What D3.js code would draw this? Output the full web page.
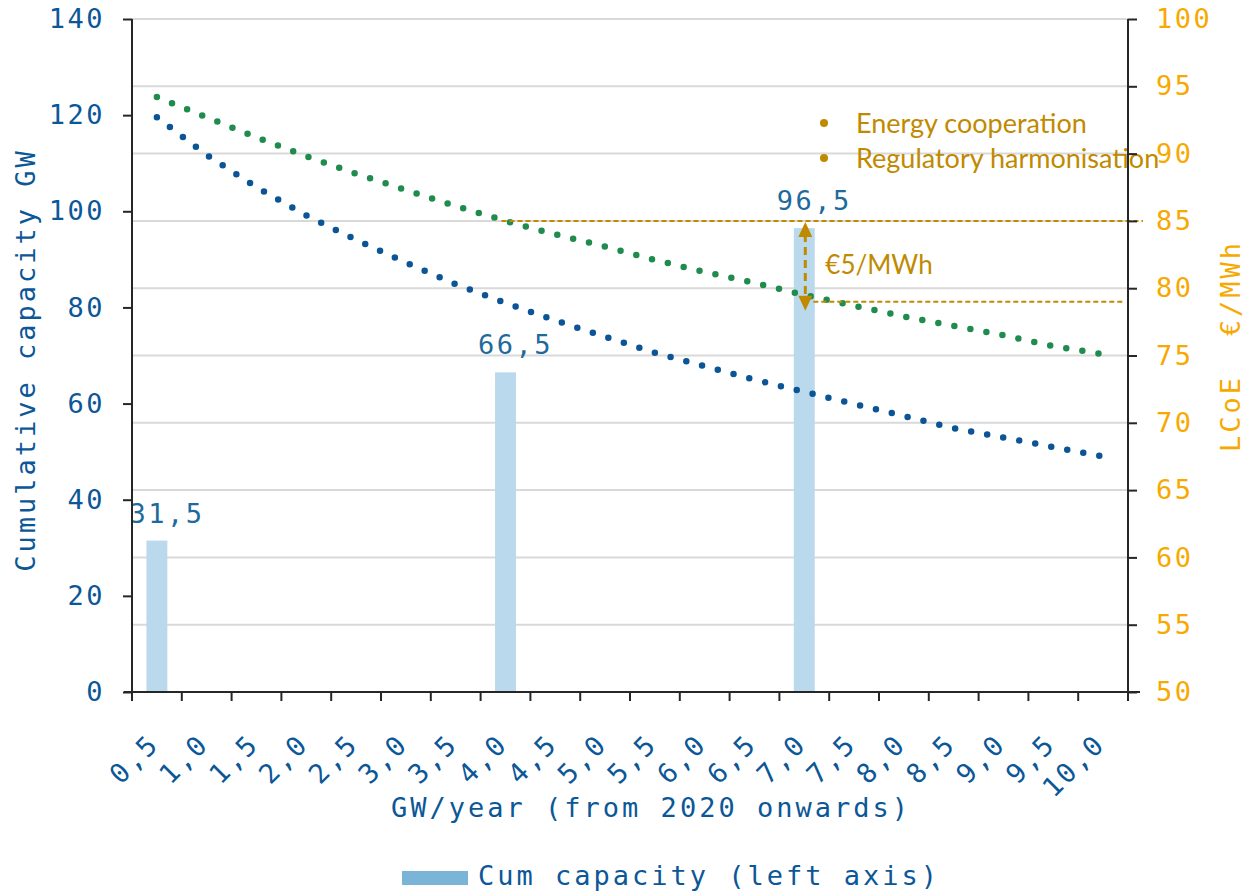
<!DOCTYPE html>
<html>
<head>
<meta charset="utf-8">
<script src="https://cdn.jsdelivr.net/npm/d3@7"></script>
<style>
body { margin: 0; background: #fff; }
</style>
</head>
<body>
<div id="container"></div>
<script>
// catégories : GW installés par an
const categories = ["0,5", "1,0", "1,5", "2,0", "2,5", "3,0", "3,5", "4,0", "4,5", "5,0",
    "5,5", "6,0", "6,5", "7,0", "7,5", "8,0", "8,5", "9,0", "9,5", "10,0"];
// capacité cumulée (axe de gauche), seulement trois barres
const capacity = [31.5, null, null, null, null, null, null, 66.5, null, null,
    null, null, null, 96.5, null, null, null, null, null, null];
// LCoE (axe de droite)
const lcoeBlue = [92.7, 89.9, 87.5, 85.4, 83.6, 81.9, 80.3, 78.9, 77.6, 76.4,
    75.2, 74.2, 73.2, 72.3, 71.4, 70.5, 69.6, 68.9, 68.2, 67.5];
const lcoeGreen = [94.2, 92.7, 91.2, 89.8, 88.5, 87.3, 86.1, 85.0, 84.0, 83.1,
    82.1, 81.2, 80.4, 79.5, 78.7, 77.9, 77.2, 76.5, 75.7, 75.1];
const leftTicks = [0, 20, 40, 60, 80, 100, 120, 140];
const rightTicks = [50, 55, 60, 65, 70, 75, 80, 85, 90, 95, 100];
const bullets = ["Energy cooperation", "Regulatory harmonisation"];
// l'écart de 5 €/MWh entre 4,0 et 7,0
const gapLevels = [85, 79];
const gapLabel = "€5/MWh";

const width = 1247;
const height = 894;
const mLeft = 132, mRight = 1128, mTop = 19, mBottom = 692;

const mono = "'DejaVu Sans Mono', monospace";
const sans = "Lato, 'Open Sans', sans-serif";
const blue = "#0b5797";
const orange = "#f7a900";
const gold = "#bf8a00";

const x = d3.scaleBand().domain(categories).range([mLeft, mRight]).padding(0);
const yL = d3.scaleLinear().domain([0, 140]).range([mBottom, mTop]);
const yR = d3.scaleLinear().domain([50, 100]).range([mBottom, mTop]);
const cx = c => x(c) + x.bandwidth() / 2;

const svg = d3.create("svg")
    .attr("width", width)
    .attr("height", height)
    .attr("viewBox", [0, 0, width, height]);

// grille (elle suit l'axe de droite)
svg.append("g")
    .selectAll("line")
    .data(rightTicks.slice(1))
    .join("line")
    .attr("x1", mLeft)
    .attr("x2", mRight)
    .attr("y1", d => yR(d))
    .attr("y2", d => yR(d))
    .attr("stroke", "#d9d9d9")
    .attr("stroke-width", 2);

// barres
const bars = categories.map((c, i) => ({cat: c, value: capacity[i]})).filter(d => d.value != null);
const barW = x.bandwidth() * 0.42;

svg.append("g")
    .selectAll("rect")
    .data(bars)
    .join("rect")
    .attr("x", d => cx(d.cat) - barW / 2)
    .attr("width", barW)
    .attr("y", d => yL(d.value))
    .attr("height", d => yL(0) - yL(d.value))
    .attr("fill", "#bbd9ec");

svg.append("g")
    .selectAll("text")
    .data(bars)
    .join("text")
    .attr("x", d => cx(d.cat) + 10)
    .attr("y", d => yL(d.value) - 18)
    .attr("text-anchor", "middle")
    .attr("font-family", mono)
    .attr("font-size", 27)
    .attr("letter-spacing", 2.5)
    .attr("fill", "#1f6a9c")
    .text(d => d.value.toFixed(1).replace(".", ","));

// lignes pointillées
const line = d3.line()
    .x((d, i) => cx(categories[i]))
    .y(d => yR(d));

const series = [
    {values: lcoeGreen, color: "#1f8c4e"},
    {values: lcoeBlue, color: "#0b5597"}
];

svg.append("g")
    .selectAll("path")
    .data(series)
    .join("path")
    .attr("d", d => line(d.values))
    .attr("fill", "none")
    .attr("stroke", d => d.color)
    .attr("stroke-width", 6.5)
    .attr("stroke-linecap", "round")
    .attr("stroke-dasharray", "0 16.3");

// annotation de l'écart
const xa = cx("4,0");
const xb = cx("7,0");
svg.append("line")
    .attr("x1", xa - 4).attr("x2", mRight + 15)
    .attr("y1", yR(gapLevels[0])).attr("y2", yR(gapLevels[0]))
    .attr("stroke", gold).attr("stroke-width", 2).attr("stroke-dasharray", "5 3");
svg.append("line")
    .attr("x1", xb + 9).attr("x2", mRight - 5)
    .attr("y1", yR(gapLevels[1])).attr("y2", yR(gapLevels[1]))
    .attr("stroke", gold).attr("stroke-width", 2).attr("stroke-dasharray", "5 3");

const ya = yR(gapLevels[0]) + 1;
const yb = yR(gapLevels[1]) + 9;
svg.append("line")
    .attr("x1", xb + 1).attr("x2", xb + 1)
    .attr("y1", ya + 12).attr("y2", yb - 12)
    .attr("stroke", gold).attr("stroke-width", 3).attr("stroke-dasharray", "8 5");
svg.append("path")
    .attr("d", `M${xb + 1},${ya} l-7,15 h14 Z M${xb + 1},${yb} l-7,-15 h14 Z`)
    .attr("fill", gold);

svg.append("text")
    .attr("x", xb + 21)
    .attr("y", yR(gapLevels[0]) + 53)
    .attr("font-family", sans)
    .attr("font-size", 26)
    .attr("fill", gold)
    .text(gapLabel);

// liste à puces
const bl = svg.append("g")
    .selectAll("g")
    .data(bullets)
    .join("g")
    .attr("transform", (d, i) => `translate(824,${133 + i * 35})`);
bl.append("circle").attr("cx", 0).attr("cy", -10).attr("r", 4).attr("fill", gold);
bl.append("text")
    .attr("x", 32)
    .attr("font-family", sans)
    .attr("font-size", 27)
    .attr("fill", gold)
    .text(d => d);

// axes
const axisColor = "#262626";

const gx = svg.append("g").attr("transform", `translate(0,${mBottom})`);
gx.append("line")
    .attr("x1", mLeft - 8).attr("x2", mRight + 12)
    .attr("stroke", axisColor).attr("stroke-width", 2);
gx.selectAll("line.tick")
    .data(categories.map(c => x(c)).concat([mRight]))
    .join("line")
    .attr("class", "tick")
    .attr("x1", d => d).attr("x2", d => d)
    .attr("y1", 0).attr("y2", 9)
    .attr("stroke", axisColor).attr("stroke-width", 2);
gx.selectAll("text")
    .data(categories)
    .join("text")
    .attr("transform", d => `translate(${cx(d) - 3},47) rotate(-45)`)
    .attr("dy", "0.35em")
    .attr("text-anchor", "end")
    .attr("font-family", mono)
    .attr("font-size", 27)
    .attr("letter-spacing", 2.5)
    .attr("fill", blue)
    .text(d => d);

const gl = svg.append("g")
    .attr("transform", `translate(${mLeft},0)`)
    .call(d3.axisLeft(yL).tickValues(leftTicks).tickSize(9).tickPadding(18).tickSizeOuter(0));
gl.select(".domain").attr("d", `M0,${mTop}V${mBottom + 9}`);

const gr = svg.append("g")
    .attr("transform", `translate(${mRight},0)`)
    .call(d3.axisRight(yR).tickValues(rightTicks).tickSize(9).tickPadding(19).tickSizeOuter(0));
gr.select(".domain").attr("d", `M0,${mTop}V${mBottom}`);

[gl, gr].forEach(g => {
    g.select(".domain").attr("stroke", axisColor).attr("stroke-width", 2);
    g.selectAll(".tick line").attr("stroke", axisColor).attr("stroke-width", 2);
    g.selectAll(".tick text")
        .attr("font-family", mono)
        .attr("font-size", 27)
        .attr("letter-spacing", 2.5);
});
gl.selectAll(".tick text").attr("fill", blue);
gr.selectAll(".tick text").attr("fill", orange);

// titres
const title = (t, color) => svg.append("text")
    .attr("font-family", mono)
    .attr("font-size", 27)
    .attr("letter-spacing", 3)
    .attr("fill", color)
    .attr("xml:space", "preserve")
    .style("white-space", "pre")
    .text(t);

title("Cumulative capacity GW", blue)
    .attr("text-anchor", "middle")
    .attr("transform", `translate(35,360) rotate(-90)`);
title("LCoE  €/MWh", orange)
    .attr("text-anchor", "middle")
    .attr("transform", `translate(1240,346) rotate(-90)`);
title("GW/year (from 2020 onwards)", blue)
    .attr("text-anchor", "middle")
    .attr("x", 651)
    .attr("y", 817);

// légende
svg.append("rect")
    .attr("x", 402).attr("y", 871)
    .attr("width", 66).attr("height", 14)
    .attr("fill", "#7ab4d6");
title("Cum capacity (left axis)", blue)
    .attr("x", 478)
    .attr("y", 885);

d3.select("#container").node().append(svg.node());
</script>
</body>
</html>
